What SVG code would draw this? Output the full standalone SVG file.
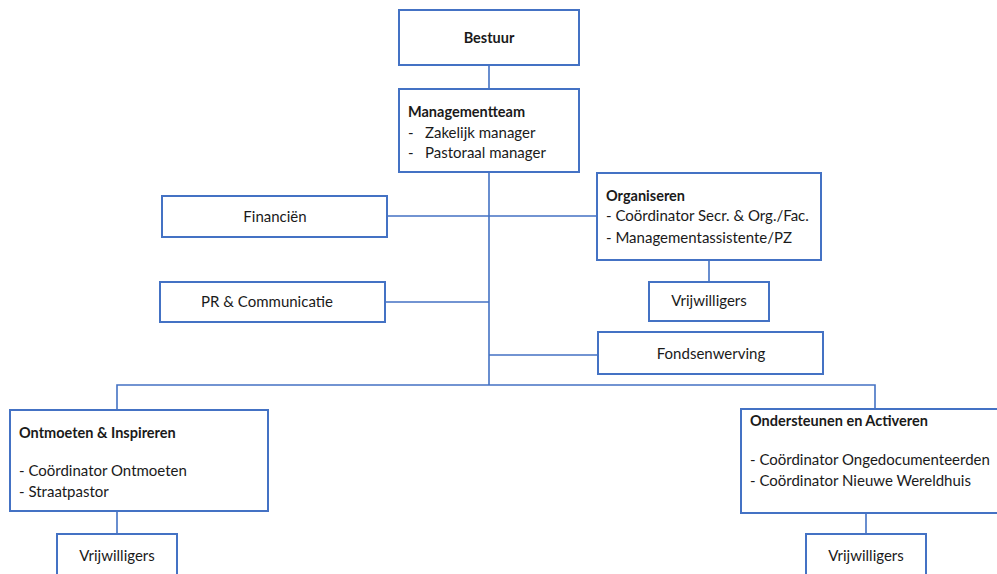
<svg xmlns="http://www.w3.org/2000/svg" width="997" height="574" viewBox="0 0 997 574">
<style>
.box{fill:#fff;stroke:#4472C4;stroke-width:2}
.ln{fill:none;stroke:#4472C4;stroke-width:1.6}
text{font-family:Lato,"Liberation Sans",sans-serif;font-size:15px;fill:#1a1a1a}
.b{font-weight:bold;font-size:14.5px}
.c{text-anchor:middle}
</style>
<rect width="997" height="574" fill="#fff"/>
<g id="connectors">
<path class="ln" d="M489 65V89M489 172V385M387 216H597M385 302H489M489 355H598M117 410V385H875V409M709 260V282M117 511V534M866 513V534"/>
</g>
<g id="bestuur"><rect class="box" x="399" y="10" width="180" height="55"/><text class="b c" x="489" y="43">Bestuur</text></g>
<g id="managementteam"><rect class="box" x="399" y="89" width="180" height="83"/>
<text class="b" x="408" y="117">Managementteam</text>
<text x="408" y="138">-</text><text x="425" y="138">Zakelijk manager</text>
<text x="408" y="158">-</text><text x="425" y="158">Pastoraal manager</text></g>
<g id="financien"><rect class="box" x="162" y="196" width="225" height="41"/><text class="c" x="275" y="222">Financiën</text></g>
<g id="pr"><rect class="box" x="160" y="282" width="225" height="40"/><text class="c" x="267" y="307">PR &amp; Communicatie</text></g>
<g id="organiseren"><rect class="box" x="597" y="173" width="224" height="87"/>
<text class="b" x="606" y="201">Organiseren</text>
<text x="606" y="221">- Coördinator Secr. &amp; Org./Fac.</text>
<text x="606" y="243">- Managementassistente/PZ</text></g>
<g id="vrijwilligers-org"><rect class="box" x="649" y="282" width="120" height="39"/><text class="c" x="709" y="306">Vrijwilligers</text></g>
<g id="fondsenwerving"><rect class="box" x="598" y="332" width="225" height="42"/><text class="c" x="711" y="359">Fondsenwerving</text></g>
<g id="ontmoeten"><rect class="box" x="10" y="410" width="258" height="101"/>
<text class="b" x="19" y="438">Ontmoeten &amp; Inspireren</text>
<text x="19" y="476">- Coördinator Ontmoeten</text>
<text x="19" y="497">- Straatpastor</text></g>
<g id="vrijwilligers-ont"><rect class="box" x="57" y="534" width="120" height="45"/><text class="c" x="117" y="561">Vrijwilligers</text></g>
<g id="ondersteunen"><rect class="box" x="741" y="409" width="262" height="104"/>
<text class="b" x="750" y="426">Ondersteunen en Activeren</text>
<text x="750" y="465">- Coördinator Ongedocumenteerden</text>
<text x="750" y="486">- Coördinator Nieuwe Wereldhuis</text></g>
<g id="vrijwilligers-ond"><rect class="box" x="806" y="534" width="120" height="45"/><text class="c" x="866" y="561">Vrijwilligers</text></g>
</svg>
